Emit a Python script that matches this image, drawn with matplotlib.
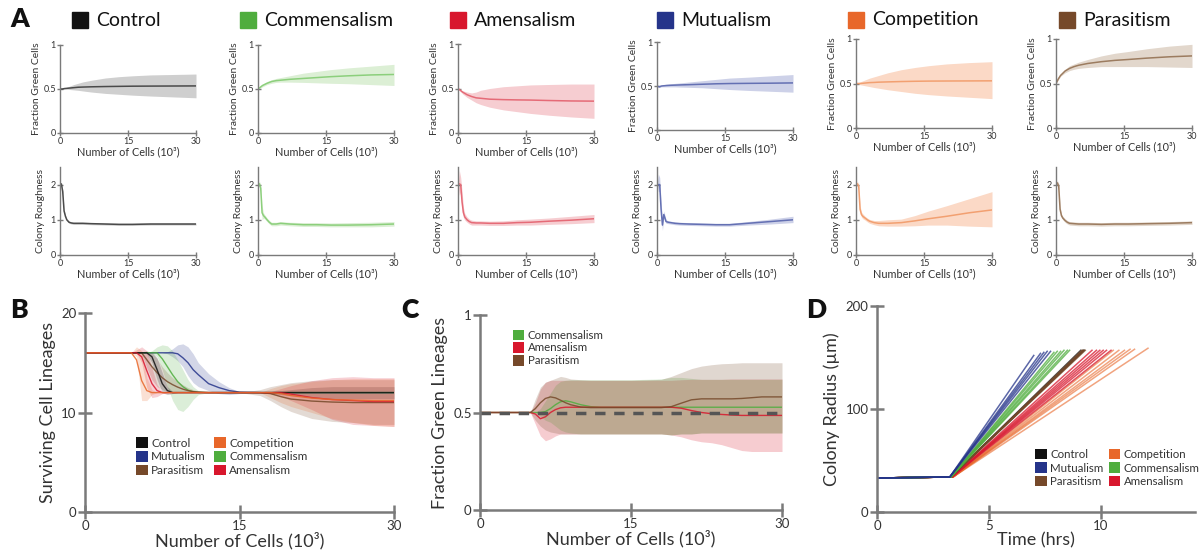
import matplotlib
matplotlib.use("Agg")
import matplotlib.pyplot as plt
from matplotlib.patches import Rectangle, Patch

plt.rcParams['font.family'] = ['Lato', 'DejaVu Sans']

W, H = 1203, 560

# ---------------- data ----------------
conditions = ["Control", "Commensalism", "Amensalism", "Mutualism", "Competition", "Parasitism"]
base_colors = ["#111111", "#4fad3e", "#d8172d", "#25348a", "#e8672a", "#76492a"]
line_colors_A = ["#4a4a4a", "#8ccf7c", "#e56b77", "#6470b3", "#f2a071", "#9c7c60"]
band_colors_A = ["#cfcfcf", "#dcefd5", "#f6cdd1", "#cdd1e8", "#fbd9c6", "#e2d7cc"]

# Panel A top: fraction green cells
frac_x = [0, 0.5, 1, 2, 3, 4, 5, 7, 10, 13, 16, 20, 25, 30]
frac_mean = [
    [0.5, 0.5, 0.505, 0.51, 0.515, 0.52, 0.522, 0.525, 0.528, 0.53, 0.532, 0.533, 0.534, 0.535],
    [0.5, 0.52, 0.54, 0.565, 0.585, 0.595, 0.6, 0.61, 0.62, 0.63, 0.64, 0.65, 0.66, 0.665],
    [0.5, 0.48, 0.46, 0.43, 0.41, 0.395, 0.39, 0.38, 0.375, 0.372, 0.37, 0.365, 0.36, 0.358],
    [0.5, 0.49, 0.5, 0.505, 0.508, 0.51, 0.512, 0.515, 0.52, 0.525, 0.528, 0.53, 0.532, 0.535],
    [0.5, 0.5, 0.5, 0.505, 0.51, 0.512, 0.515, 0.518, 0.522, 0.525, 0.527, 0.528, 0.529, 0.53],
    [0.5, 0.55, 0.59, 0.64, 0.67, 0.69, 0.705, 0.725, 0.745, 0.76, 0.77, 0.785, 0.80, 0.81],
]
frac_upper = [
    [0.5, 0.5, 0.51, 0.53, 0.55, 0.565, 0.58, 0.6, 0.625, 0.64, 0.65, 0.66, 0.665, 0.67],
    [0.5, 0.53, 0.555, 0.585, 0.605, 0.62, 0.63, 0.65, 0.68, 0.70, 0.72, 0.74, 0.76, 0.78],
    [0.5, 0.49, 0.475, 0.46, 0.45, 0.46, 0.48, 0.5, 0.52, 0.53, 0.54, 0.545, 0.55, 0.55],
    [0.5, 0.5, 0.51, 0.52, 0.525, 0.53, 0.535, 0.545, 0.56, 0.575, 0.59, 0.60, 0.615, 0.63],
    [0.5, 0.51, 0.52, 0.54, 0.56, 0.575, 0.59, 0.62, 0.655, 0.68, 0.70, 0.72, 0.735, 0.745],
    [0.5, 0.56, 0.6, 0.66, 0.7, 0.72, 0.74, 0.77, 0.81, 0.84, 0.86, 0.89, 0.92, 0.94],
]
frac_lower = [
    [0.5, 0.495, 0.5, 0.495, 0.49, 0.485, 0.478, 0.465, 0.45, 0.44, 0.43, 0.42, 0.41, 0.40],
    [0.5, 0.51, 0.525, 0.55, 0.565, 0.575, 0.578, 0.578, 0.575, 0.57, 0.565, 0.56, 0.55, 0.54],
    [0.5, 0.47, 0.44, 0.4, 0.37, 0.34, 0.32, 0.29, 0.26, 0.24, 0.22, 0.2, 0.18, 0.165],
    [0.5, 0.485, 0.49, 0.49, 0.49, 0.49, 0.488, 0.485, 0.48, 0.47, 0.46, 0.45, 0.44, 0.43],
    [0.5, 0.49, 0.485, 0.475, 0.465, 0.455, 0.447, 0.43, 0.41, 0.39, 0.375, 0.36, 0.345, 0.33],
    [0.5, 0.54, 0.58, 0.62, 0.645, 0.66, 0.67, 0.68, 0.69, 0.69, 0.69, 0.69, 0.685, 0.68],
]

# Panel A bottom: colony roughness
rough_x = [0, 0.3, 0.6, 0.9, 1.2, 1.5, 2, 2.5, 3, 4, 5, 7, 10, 13, 16, 20, 25, 30]
rough_mean = [
    [2.0, 2.02, 1.8, 1.25, 1.1, 1.0, 0.93, 0.91, 0.9, 0.9, 0.9, 0.89, 0.88, 0.87, 0.87, 0.88, 0.88, 0.88],
    [2.0, 2.02, 1.9, 1.2, 1.12, 1.08, 1.0, 0.93, 0.88, 0.88, 0.9, 0.88, 0.86, 0.86, 0.85, 0.85, 0.86, 0.88],
    [2.0, 2.02, 2.0, 1.5, 1.2, 1.08, 1.0, 0.95, 0.92, 0.91, 0.91, 0.9, 0.9, 0.92, 0.93, 0.96, 0.99, 1.03],
    [2.0, 2.0, 2.0, 1.3, 0.85, 1.15, 0.95, 0.93, 0.92, 0.9, 0.89, 0.88, 0.87, 0.86, 0.86, 0.9, 0.95, 1.0],
    [2.0, 2.02, 1.95, 1.3, 1.15, 1.1, 1.05, 1.0, 0.96, 0.92, 0.9, 0.9, 0.92, 0.97, 1.03, 1.1, 1.2, 1.28],
    [2.0, 2.05, 1.95, 1.3, 1.12, 1.05, 0.98, 0.93, 0.9, 0.89, 0.88, 0.88, 0.87, 0.88, 0.88, 0.89, 0.9, 0.92],
]
rough_upper = [
    [2.0, 2.06, 1.86, 1.3, 1.14, 1.03, 0.96, 0.94, 0.93, 0.93, 0.93, 0.92, 0.91, 0.9, 0.9, 0.91, 0.91, 0.91],
    [2.0, 2.1, 2.0, 1.4, 1.2, 1.14, 1.05, 0.98, 0.93, 0.93, 0.95, 0.93, 0.92, 0.92, 0.91, 0.92, 0.93, 0.95],
    [2.0, 2.4, 2.2, 1.8, 1.35, 1.18, 1.08, 1.02, 0.99, 0.97, 0.97, 0.96, 0.97, 1.0, 1.02, 1.05, 1.1, 1.15],
    [2.0, 2.3, 2.2, 1.5, 1.0, 1.25, 1.0, 0.97, 0.96, 0.94, 0.93, 0.92, 0.91, 0.9, 0.9, 0.95, 1.02, 1.1],
    [2.0, 2.1, 2.0, 1.4, 1.22, 1.17, 1.1, 1.05, 1.01, 0.98, 0.98, 1.0, 1.02, 1.12, 1.25, 1.4, 1.6, 1.8],
    [2.0, 2.12, 2.02, 1.38, 1.17, 1.1, 1.03, 0.98, 0.95, 0.94, 0.93, 0.93, 0.92, 0.93, 0.93, 0.94, 0.95, 0.97],
]
rough_lower = [
    [2.0, 1.98, 1.74, 1.2, 1.06, 0.97, 0.9, 0.88, 0.87, 0.87, 0.87, 0.86, 0.85, 0.84, 0.84, 0.85, 0.85, 0.85],
    [2.0, 1.94, 1.8, 1.0, 1.04, 1.02, 0.95, 0.88, 0.83, 0.83, 0.85, 0.83, 0.81, 0.81, 0.8, 0.8, 0.8, 0.82],
    [2.0, 1.7, 1.8, 1.25, 1.06, 0.99, 0.93, 0.88, 0.85, 0.85, 0.85, 0.84, 0.84, 0.85, 0.85, 0.87, 0.89, 0.92],
    [2.0, 1.8, 1.8, 1.1, 0.7, 1.05, 0.9, 0.89, 0.88, 0.86, 0.85, 0.84, 0.83, 0.82, 0.82, 0.85, 0.88, 0.92],
    [2.0, 1.95, 1.9, 1.2, 1.08, 1.03, 0.99, 0.94, 0.9, 0.86, 0.83, 0.82, 0.82, 0.83, 0.85, 0.85, 0.82, 0.8],
    [2.0, 1.98, 1.88, 1.22, 1.07, 1.0, 0.93, 0.88, 0.85, 0.84, 0.83, 0.83, 0.82, 0.83, 0.83, 0.84, 0.85, 0.87],
]

# Panel B: surviving cell lineages
surv_x = [0, 4.5, 5, 5.5, 6, 6.5, 7, 7.5, 8, 8.5, 9, 9.5, 10, 10.5, 11, 12, 13, 14, 15,
          17, 18, 19, 20, 22, 24, 26, 28, 30]
surv_mean = {
    "Control":      [16, 16, 16, 16, 16, 15.6, 14.3, 12.9, 12.2, 12, 12, 12, 12, 12, 12, 12, 12, 12, 12,
                     12, 12, 12, 12, 12, 12, 12, 12, 12],
    "Commensalism": [16, 16, 16, 16, 16, 16, 16, 15.4, 14.6, 13.8, 13.1, 12.6, 12.25, 12.08, 12.02, 12, 12, 12, 12,
                     12, 12, 12, 12, 12, 12, 12, 12, 12],
    "Amensalism":   [16, 16, 16, 15.6, 14.2, 12.9, 12.2, 12, 12, 12, 12, 12, 12, 12, 12, 12, 12, 12, 12,
                     12, 12, 12, 11.85, 11.5, 11.3, 11.2, 11.1, 11.1],
    "Mutualism":    [16, 16, 16, 16, 16, 16, 16, 16, 16, 16, 15.9, 15.5, 15.0, 14.3, 13.8, 12.9, 12.5, 12.2, 12.05,
                     12, 12, 12, 12, 12, 12, 12, 12, 12],
    "Competition":  [16, 16, 15.3, 13.2, 12.2, 12, 12, 12, 12, 12, 12, 12, 12, 12, 12, 12, 12, 12, 12,
                     12, 12, 11.9, 11.7, 11.45, 11.3, 11.25, 11.2, 11.2],
    "Parasitism":   [16, 16, 16, 16, 15.3, 14.6, 14.0, 13.5, 13.1, 12.8, 12.55, 12.35, 12.2, 12.1, 12.05, 12, 12, 12, 12,
                     12, 11.9, 11.6, 11.35, 11.15, 11.05, 11.0, 11.0, 11.0],
}
surv_upper = {
    "Control":      [16, 16, 16, 16, 16.1, 16.1, 15.5, 14.0, 12.6, 12.1, 12, 12, 12, 12, 12, 12, 12, 12, 12,
                     12, 12.1, 12.2, 12.3, 12.5, 12.6, 12.6, 12.6, 12.6],
    "Commensalism": [16, 16, 16, 16, 16, 16.2, 16.6, 16.8, 16.7, 16.2, 15.3, 14.3, 13.3, 12.6, 12.2, 12.05, 12, 12, 12,
                     12, 12, 12, 12, 12, 12, 12, 12, 12],
    "Amensalism":   [16, 16, 16.3, 16.6, 16.2, 14.5, 12.8, 12.1, 12, 12, 12, 12, 12, 12, 12, 12, 12, 12, 12,
                     12, 12.1, 12.4, 12.7, 13.2, 13.5, 13.6, 13.5, 13.5],
    "Mutualism":    [16, 16, 16, 16, 16, 16, 16, 16, 16.1, 16.4, 16.8, 16.9, 16.6, 15.9, 15.0, 13.9, 13.1, 12.5, 12.1,
                     12, 12, 12, 12, 12, 12, 12, 12, 12],
    "Competition":  [16, 16, 16.6, 16.2, 13.5, 12.3, 12, 12, 12, 12, 12, 12, 12, 12, 12, 12, 12, 12, 12,
                     12, 12.4, 12.7, 12.9, 13.1, 13.3, 13.4, 13.4, 13.4],
    "Parasitism":   [16, 16, 16, 16.1, 16.2, 16.0, 15.4, 14.6, 14.0, 13.5, 13.1, 12.8, 12.5, 12.3, 12.15, 12.05, 12, 12, 12,
                     12.3, 12.6, 12.8, 13.0, 13.2, 13.3, 13.3, 13.3, 13.3],
}
surv_lower = {
    "Control":      [16, 16, 16, 16, 15.9, 15.0, 13.3, 12.0, 11.8, 11.9, 12, 12, 12, 12, 12, 12, 12, 12, 12,
                     12, 11.9, 11.8, 11.7, 11.5, 11.4, 11.4, 11.4, 11.4],
    "Commensalism": [16, 16, 16, 16, 16, 16, 15.6, 14.3, 12.6, 11.2, 10.3, 10.1, 10.6, 11.3, 11.8, 12, 12, 12, 12,
                     12, 12, 12, 12, 12, 12, 12, 12, 12],
    "Amensalism":   [16, 16, 16, 15.0, 12.5, 11.5, 11.6, 11.9, 12, 12, 12, 12, 12, 12, 12, 12, 12, 12, 12,
                     12, 11.9, 11.6, 11.2, 10.3, 9.3, 8.8, 8.7, 8.6],
    "Mutualism":    [16, 16, 16, 16, 16, 16, 16, 16, 15.9, 15.6, 15.2, 14.6, 13.7, 13.0, 12.6, 12.2, 11.9, 11.8, 11.9,
                     12, 12, 12, 12, 12, 12, 12, 12, 12],
    "Competition":  [16, 16, 15.6, 11.2, 11.2, 11.8, 12, 12, 12, 12, 12, 12, 12, 12, 12, 12, 12, 12, 12,
                     12, 11.5, 11.0, 10.6, 10.0, 9.4, 9.0, 8.7, 8.6],
    "Parasitism":   [16, 16, 16, 15.9, 14.5, 13.3, 12.6, 12.3, 12.1, 12.0, 12, 12, 12, 12, 12, 12, 12, 12, 12,
                     11.7, 11.2, 10.6, 10.1, 9.4, 9.1, 9.0, 8.8, 8.8],
}

# Panel C: fraction green lineages
green_x = [0, 5, 5.5, 6, 6.5, 7, 7.5, 8, 8.5, 9, 10, 11, 12, 15, 18, 19, 20, 21, 22, 23, 24, 25, 26, 27, 28, 30]
green_conditions = ["Commensalism", "Amensalism", "Parasitism"]
green_mean = {
    "Commensalism": [0.5, 0.5, 0.5, 0.5, 0.505, 0.52, 0.54, 0.555, 0.56, 0.555, 0.54, 0.53, 0.527, 0.527, 0.527,
                     0.527, 0.527, 0.527, 0.527, 0.527, 0.527, 0.527, 0.527, 0.527, 0.527, 0.527],
    "Amensalism":   [0.5, 0.5, 0.492, 0.468, 0.478, 0.5, 0.515, 0.524, 0.527, 0.527, 0.527, 0.527, 0.527, 0.527, 0.527,
                     0.527, 0.522, 0.51, 0.5, 0.494, 0.49, 0.487, 0.485, 0.485, 0.485, 0.485],
    "Parasitism":   [0.5, 0.5, 0.52, 0.55, 0.572, 0.58, 0.575, 0.563, 0.55, 0.54, 0.528, 0.525, 0.525, 0.525, 0.525,
                     0.53, 0.548, 0.565, 0.57, 0.57, 0.57, 0.57, 0.572, 0.576, 0.58, 0.58],
}
green_upper = {
    "Commensalism": [0.5, 0.5, 0.5, 0.52, 0.56, 0.6, 0.64, 0.66, 0.665, 0.668, 0.668, 0.668, 0.668, 0.668, 0.672,
                     0.68, 0.68, 0.675, 0.67, 0.67, 0.67, 0.67, 0.67, 0.67, 0.67, 0.67],
    "Amensalism":   [0.5, 0.5, 0.55, 0.62, 0.655, 0.665, 0.665, 0.665, 0.665, 0.665, 0.665, 0.665, 0.665, 0.665, 0.665,
                     0.665, 0.668, 0.67, 0.67, 0.67, 0.67, 0.672, 0.672, 0.672, 0.672, 0.672],
    "Parasitism":   [0.5, 0.5, 0.57, 0.63, 0.655, 0.665, 0.675, 0.685, 0.68, 0.672, 0.668, 0.665, 0.665, 0.665, 0.67,
                     0.685, 0.705, 0.725, 0.738, 0.745, 0.75, 0.752, 0.755, 0.755, 0.755, 0.755],
}
green_lower = {
    "Commensalism": [0.5, 0.5, 0.5, 0.48, 0.46, 0.45, 0.43, 0.41, 0.4, 0.395, 0.39, 0.39, 0.39, 0.39, 0.39,
                     0.385, 0.39, 0.39, 0.395, 0.395, 0.395, 0.395, 0.395, 0.395, 0.395, 0.395],
    "Amensalism":   [0.5, 0.5, 0.44, 0.38, 0.355, 0.365, 0.38, 0.39, 0.39, 0.39, 0.39, 0.39, 0.39, 0.39, 0.39,
                     0.385, 0.375, 0.36, 0.35, 0.345, 0.335, 0.32, 0.305, 0.3, 0.3, 0.3],
    "Parasitism":   [0.5, 0.5, 0.46, 0.43, 0.41, 0.4, 0.395, 0.39, 0.39, 0.39, 0.39, 0.39, 0.39, 0.39, 0.39,
                     0.385, 0.39, 0.39, 0.395, 0.395, 0.395, 0.395, 0.395, 0.395, 0.395, 0.395],
}
neutral_level = 0.5

# Panel D: colony radius trajectories (start radius, onset time, end time, end radius)
radius_start = 33
radius_onset_value = 34
radius_onset = {"Control": 3.3, "Competition": 3.4, "Amensalism": 3.35, "Parasitism": 3.3,
                "Commensalism": 3.3, "Mutualism": 3.25}
radius_end_time = {
    "Control":      [9.1, 9.2, 9.25],
    "Competition":  [10.55, 10.8, 11.05, 11.3, 11.5, 12.1],
    "Amensalism":   [9.6, 9.8, 9.95, 10.1, 10.25, 10.45],
    "Parasitism":   [9.15, 9.2, 9.25, 9.3],
    "Commensalism": [7.9, 8.05, 8.2, 8.35, 8.5, 8.6],
    "Mutualism":    [7.0, 7.3, 7.45, 7.6, 7.75],
}
radius_end_value = {
    "Control":      [157, 157, 157],
    "Competition":  [157, 157, 157, 158, 158, 159],
    "Amensalism":   [157, 157, 157, 157, 157, 157],
    "Parasitism":   [157, 157, 157, 157],
    "Commensalism": [155, 156, 156, 157, 157, 157],
    "Mutualism":    [152, 154, 155, 156, 156],
}

legend_order = ["Control", "Mutualism", "Parasitism", "Competition", "Commensalism", "Amensalism"]
cmap = dict(zip(conditions, base_colors))

# ---------------- figure ----------------
fig = plt.figure(figsize=(W / 100, H / 100), dpi=100)


def px_axes(x0, x1, ytop, ybot):
    return fig.add_axes([x0 / W, 1 - ybot / H, (x1 - x0) / W, (ybot - ytop) / H])


text_col = "#333333"
spine_col = "#7a7a7a"


def style(ax, lw, tlen, tsize):
    for s in ["top", "right"]:
        ax.spines[s].set_visible(False)
    for s in ["left", "bottom"]:
        ax.spines[s].set_color(spine_col)
        ax.spines[s].set_linewidth(lw)
    ax.tick_params(direction="inout", length=tlen, width=lw, color=spine_col,
                   labelsize=tsize, labelcolor=text_col, pad=1)


col_left = [60, 258, 458, 657, 856, 1056]
top_ytop = [45, 45, 44, 42, 39, 39]
top_ybot = [133, 133, 133, 130, 128, 128]
title_sq = [72, 240, 450, 657, 848, 1059]

for i, name in enumerate(conditions):
    x0 = col_left[i]
    # title
    fig.patches.append(Rectangle((title_sq[i] / W, 1 - 28 / H), 16 / W, 16 / H,
                                 transform=fig.transFigure, color=base_colors[i]))
    fig.text((title_sq[i] + 24) / W, 1 - 20 / H, name, fontsize=14, color="#111111",
             va="center", ha="left")

    ax = px_axes(x0, x0 + 136, top_ytop[i], top_ybot[i])
    ax.fill_between(frac_x, frac_lower[i], frac_upper[i], color=band_colors_A[i], lw=0)
    ax.plot(frac_x, frac_mean[i], color=line_colors_A[i], lw=1.1)
    ax.set_xlim(0, 30)
    ax.set_ylim(0, 1)
    ax.set_xticks([0, 15, 30])
    ax.set_yticks([0, 0.5, 1])
    ax.set_yticklabels(["0", "0.5", "1"])
    style(ax, 1.0, 4, 6.5)
    ax.set_ylabel("Fraction Green Cells", fontsize=7.5, color=text_col, labelpad=2)
    ax.set_xlabel("Number of Cells (10³)", fontsize=7.8, color=text_col, labelpad=0)

    ax2 = px_axes(x0, x0 + 136, 167, 255)
    ax2.fill_between(rough_x, rough_lower[i], rough_upper[i], color=band_colors_A[i], lw=0)
    ax2.plot(rough_x, rough_mean[i], color=line_colors_A[i], lw=1.1)
    ax2.set_xlim(0, 30)
    ax2.set_ylim(0, 2.5)
    ax2.set_xticks([0, 15, 30])
    ax2.set_yticks([0, 1, 2])
    style(ax2, 1.0, 4, 6.5)
    ax2.set_ylabel("Colony Roughness", fontsize=7.5, color=text_col, labelpad=4)
    ax2.set_xlabel("Number of Cells (10³)", fontsize=7.8, color=text_col, labelpad=0)

# Panel letters
for lbl, (lx, ly) in {"A": (20, 19), "B": (19, 310), "C": (410, 310), "D": (816, 310)}.items():
    fig.text(lx / W, 1 - ly / H, lbl, fontsize=19, fontweight="heavy", ha="center", va="center",
             color="#111111")


def square_handles(names):
    return [Patch(facecolor=cmap[n], edgecolor="none", label=n) for n in names]


# Panel B
axB = px_axes(85, 394, 313, 512)
b_order = ["Mutualism", "Commensalism", "Parasitism", "Control", "Amensalism", "Competition"]
for n in b_order:
    axB.fill_between(surv_x, surv_lower[n], surv_upper[n], color=cmap[n], alpha=0.2, lw=0)
for n in b_order:
    axB.plot(surv_x, surv_mean[n], color=cmap[n], lw=1.0, alpha=0.85)
axB.set_xlim(0, 30)
axB.set_ylim(0, 20)
axB.set_xticks([0, 15, 30])
axB.set_yticks([0, 10, 20])
style(axB, 1.8, 10, 9.5)
axB.set_ylabel("Surviving Cell Lineages", fontsize=13, color=text_col, labelpad=4)
axB.set_xlabel("Number of Cells (10³)", fontsize=13, color=text_col, labelpad=0)
axB.legend(handles=square_handles(legend_order), ncol=2, loc="upper left",
           bbox_to_anchor=(0.145, 0.405), frameon=False, fontsize=8.5, handlelength=1.0,
           handleheight=1.0, handletextpad=0.3, labelspacing=0.2, columnspacing=0.7,
           borderpad=0, labelcolor=text_col)

# Panel C
axC = px_axes(480, 782, 315, 510)
for n in ["Amensalism", "Commensalism", "Parasitism"]:
    axC.fill_between(green_x, green_lower[n], green_upper[n], color=cmap[n], alpha=0.22, lw=0)
for n in ["Commensalism", "Amensalism", "Parasitism"]:
    axC.plot(green_x, green_mean[n], color=cmap[n], lw=1.0, alpha=0.85)
axC.axhline(neutral_level, color="#555555", lw=2.5, dashes=(3, 2.5))
axC.set_xlim(0, 30)
axC.set_ylim(0, 1)
axC.set_xticks([0, 15, 30])
axC.set_yticks([0, 0.5, 1])
axC.set_yticklabels(["0", "0.5", "1"])
style(axC, 1.8, 10, 9.5)
axC.set_ylabel("Fraction Green Lineages", fontsize=13, color=text_col, labelpad=4)
axC.set_xlabel("Number of Cells (10³)", fontsize=13, color=text_col, labelpad=0)
axC.legend(handles=square_handles(green_conditions), ncol=1, loc="upper left",
           bbox_to_anchor=(0.09, 0.955), frameon=False, fontsize=8.3, handlelength=1.0,
           handleheight=1.0, handletextpad=0.3, labelspacing=0.15, borderpad=0,
           labelcolor=text_col)

# Panel D
axD = px_axes(877, 1195, 306, 512)
for n in ["Control", "Competition", "Amensalism", "Parasitism", "Commensalism", "Mutualism"]:
    for te, re in zip(radius_end_time[n], radius_end_value[n]):
        axD.plot([0, radius_onset[n], te], [radius_start, radius_onset_value, re],
                 color=cmap[n], lw=1.1, alpha=0.6 if n == "Competition" else 0.75)
axD.set_xlim(0, 14.2)
axD.set_ylim(0, 200)
axD.set_xticks([0, 5, 10])
axD.set_yticks([0, 100, 200])
style(axD, 1.8, 10, 9.5)
axD.set_ylabel("Colony Radius (µm)", fontsize=13, color=text_col, labelpad=4)
axD.set_xlabel("Time (hrs)", fontsize=13, color=text_col, labelpad=0)
axD.legend(handles=square_handles(legend_order), ncol=2, loc="upper left",
           bbox_to_anchor=(0.48, 0.335), frameon=False, fontsize=8.3, handlelength=1.0,
           handleheight=1.0, handletextpad=0.3, labelspacing=0.22, columnspacing=0.45,
           borderpad=0, labelcolor=text_col)

fig.savefig("out.png", dpi=100)
